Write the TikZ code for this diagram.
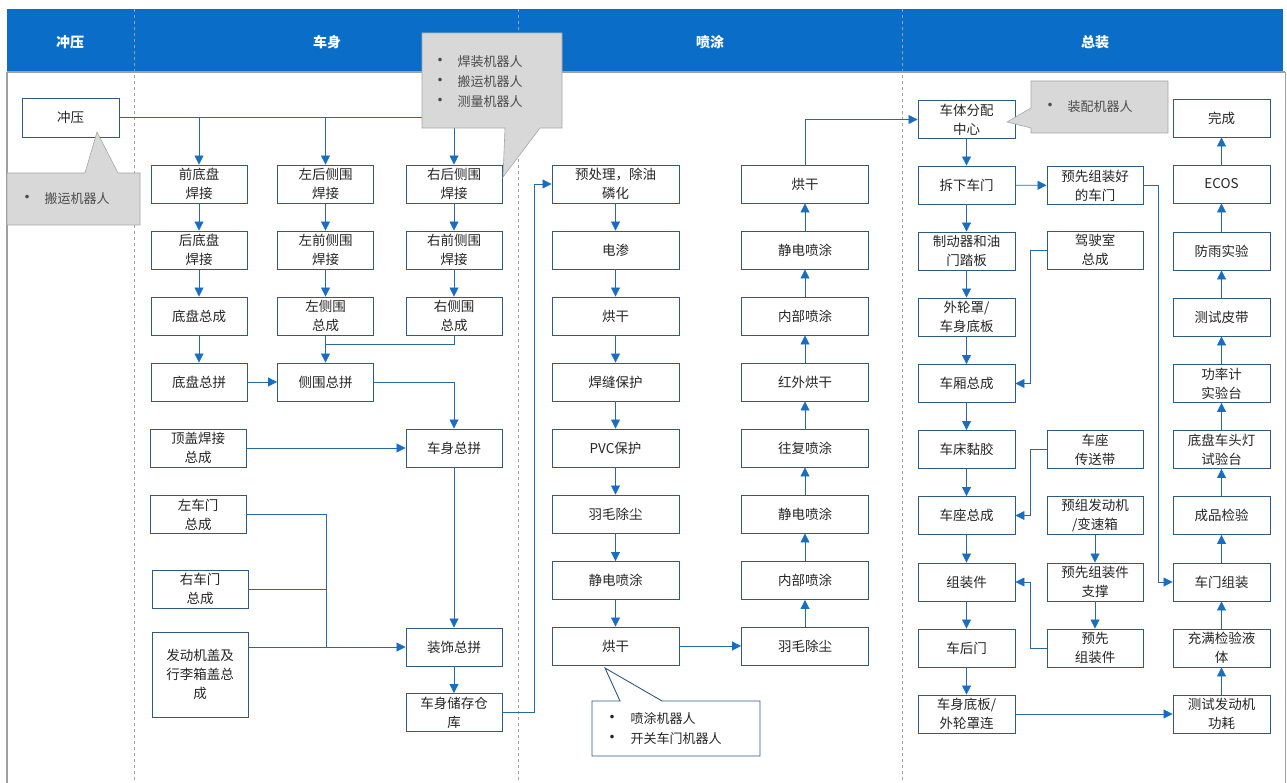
\documentclass[tikz,border=0pt]{standalone}
\usepackage{fontspec}
\newfontfamily\cjk{Noto Sans CJK SC}
\usetikzlibrary{arrows.meta}
\definecolor{hdr}{RGB}{10,110,200}
\definecolor{boxc}{RGB}{45,90,130}
\definecolor{linec}{RGB}{40,105,165}
\definecolor{tipc}{RGB}{25,110,195}
\definecolor{callg}{RGB}{216,216,216}
\definecolor{sepc}{RGB}{160,160,160}
\newcommand{\bul}{{\fontsize{17}{17}\selectfont •}}
\begin{document}
\begin{tikzpicture}[x=1pt,y=-1pt,
  box/.style={draw=boxc, line width=0.9pt, fill=white, minimum width=96pt, minimum height=38pt,
    align=center, inner sep=0pt, font=\cjk\fontsize{13.5}{19}\selectfont, text=black!85},
  wbox/.style={box, minimum width=127pt},
  conn/.style={draw=linec, line width=0.8pt},
  arr/.style={conn, -{Triangle[width=9pt,length=9pt,color=tipc]}},
  hdrtext/.style={font=\cjk\bfseries\fontsize{14}{16}\selectfont, text=white},
  calltext/.style={font=\cjk\fontsize{13}{20}\selectfont, text=black!70, align=left, anchor=west},
  callgray/.style={fill=callg, draw=gray!70, line width=0.6pt},
  callwhite/.style={fill=white, draw=boxc, line width=0.9pt}]
\useasboundingbox (0,0) rectangle (1287,783);
% header
\fill[hdr] (7,9) rectangle (1283,71);
\draw[sepc, line width=1.8pt] (7,72) -- (1285,72);
\draw[sepc, line width=1.5pt] (7,72) -- (7,783);
\draw[sepc, line width=1pt] (1285,72) -- (1285,783);
\foreach \xx in {134,518,902} {\draw[sepc, dashed, line width=0.8pt] (\xx,9) -- (\xx,783);}
\node[hdrtext] (h1) at (70,42) {冲压};
\node[hdrtext] (h2) at (327,42) {车身};
\node[hdrtext] (h3) at (710,42) {喷涂};
\node[hdrtext] (h4) at (1095,42) {总装};

% stamping
\node[box, minimum width=97pt, minimum height=39pt] (cy) at (70.5,117.5) {冲压};

% body
\node[box] (qdp) at (199,184) {前底盘\\焊接};
\node[box] (hdp) at (199,250) {后底盘\\焊接};
\node[box] (dpzc) at (199,316) {底盘总成};
\node[box] (dpzp) at (199,382) {底盘总拼};
\node[box] (zhc) at (325.5,184) {左后侧围\\焊接};
\node[box] (zqc) at (325.5,250) {左前侧围\\焊接};
\node[box] (zcz) at (325.5,316) {左侧围\\总成};
\node[box] (cwzp) at (325.5,382) {侧围总拼};
\node[box] (yhc) at (454,184) {右后侧围\\焊接};
\node[box] (yqc) at (454,250) {右前侧围\\焊接};
\node[box] (ycz) at (454,316) {右侧围\\总成};
\node[box] (cszp) at (454,448) {车身总拼};
\node[box] (zszp) at (454,647) {装饰总拼};
\node[box] (cscc) at (454,712.5) {车身储存仓\\库};
\node[box] (dg) at (198,448) {顶盖焊接\\总成};
\node[box] (zcm) at (198,514.5) {左车门\\总成};
\node[box] (ycm) at (200,589) {右车门\\总成};
\node[box, minimum height=85pt] (fdj) at (200,674.5) {发动机盖及\\行李箱盖总\\成};

% paint
\node[wbox] (p1) at (615.5,184) {预处理，除油\\磷化};
\node[wbox] (p2) at (615.5,250) {电渗};
\node[wbox] (p3) at (615.5,316) {烘干};
\node[wbox] (p4) at (615.5,382) {焊缝保护};
\node[wbox] (p5) at (615.5,448) {PVC保护};
\node[wbox] (p6) at (615.5,514) {羽毛除尘};
\node[wbox] (p7) at (615.5,580.5) {静电喷涂};
\node[wbox] (p8) at (615.5,646) {烘干};
\node[wbox] (q8) at (805,184) {烘干};
\node[wbox] (q7) at (805,250) {静电喷涂};
\node[wbox] (q6) at (805,316) {内部喷涂};
\node[wbox] (q5) at (805,382) {红外烘干};
\node[wbox] (q4) at (805,448) {往复喷涂};
\node[wbox] (q3) at (805,514) {静电喷涂};
\node[wbox] (q2) at (805,580.5) {内部喷涂};
\node[wbox] (q1) at (805,646) {羽毛除尘};

% assembly
\node[box, minimum width=97pt] (a1) at (966.5,119.5) {车体分配\\中心};
\node[box, minimum width=97pt] (a2) at (966.5,185) {拆下车门};
\node[box, minimum width=97pt] (a3) at (966.5,251) {制动器和油\\门踏板};
\node[box, minimum width=97pt] (a4) at (966.5,317) {外轮罩/\\车身底板};
\node[box, minimum width=97pt] (a5) at (966.5,383.5) {车厢总成};
\node[box, minimum width=97pt] (a6) at (966.5,449.5) {车床黏胶};
\node[box, minimum width=97pt] (a7) at (966.5,515.5) {车座总成};
\node[box, minimum width=97pt] (a8) at (966.5,582) {组装件};
\node[box, minimum width=97pt] (a9) at (966.5,648) {车后门};
\node[box, minimum width=97pt] (a10) at (966.5,714) {车身底板/\\外轮罩连};
\node[box] (b1) at (1095,185.5) {预先组装好\\的车门};
\node[box] (b2) at (1095,250) {驾驶室\\总成};
\node[box] (b3) at (1095,449.5) {车座\\传送带};
\node[box] (b4) at (1095,515.5) {预组发动机\\/变速箱};
\node[box] (b5) at (1095,582) {预先组装件\\支撑};
\node[box] (b6) at (1095,648) {预先\\组装件};
\node[box, minimum width=97pt] (c10) at (1221.5,118) {完成};
\node[box, minimum width=97pt] (c9) at (1221.5,184) {ECOS};
\node[box, minimum width=97pt] (c8) at (1221.5,251) {防雨实验};
\node[box, minimum width=97pt] (c7) at (1221.5,317) {测试皮带};
\node[box, minimum width=97pt] (c6) at (1221.5,383.5) {功率计\\实验台};
\node[box, minimum width=97pt] (c5) at (1221.5,449.5) {底盘车头灯\\试验台};
\node[box, minimum width=97pt] (c4) at (1221.5,515.5) {成品检验};
\node[box, minimum width=97pt] (c3) at (1221.5,582) {车门组装};
\node[box, minimum width=97pt] (c2) at (1221.5,648) {充满检验液\\体};
\node[box, minimum width=97pt] (c1) at (1221.5,714) {测试发动机\\功耗};

% connectors: stamping/body
\draw[arr] (cy.east) -| (qdp.north);
\draw[arr] (cy.east) -| (zhc.north);
\draw[arr] (cy.east) -| (yhc.north);
\draw[arr] (qdp) -- (hdp);
\draw[arr] (hdp) -- (dpzc);
\draw[arr] (dpzc) -- (dpzp);
\draw[arr] (zhc) -- (zqc);
\draw[arr] (zqc) -- (zcz);
\draw[arr] (yhc) -- (yqc);
\draw[arr] (yqc) -- (ycz);
\coordinate (m1) at (325.5,344);
\draw[conn] (ycz.south) |- (m1);
\draw[arr] (zcz.south) -- (cwzp.north);
\draw[arr] (dpzp) -- (cwzp);
\draw[arr] (cwzp.east) -| (cszp.north);
\draw[arr] (dg) -- (cszp);
\draw[arr] (cszp) -- (zszp);
\coordinate (j1) at (326,647);
\draw[conn] (zcm.east) -| (j1);
\draw[conn] (ycm.east) -- (ycm.east -| j1);
\draw[arr] (fdj.east |- zszp) -- (zszp.west);
\draw[arr] (zszp) -- (cscc);
\coordinate (t1) at (534,712.5);
\draw[arr] (cscc.east) -- (t1) |- (p1.west);

% paint
\draw[arr] (p1) -- (p2);
\draw[arr] (p2) -- (p3);
\draw[arr] (p3) -- (p4);
\draw[arr] (p4) -- (p5);
\draw[arr] (p5) -- (p6);
\draw[arr] (p6) -- (p7);
\draw[arr] (p7) -- (p8);
\draw[arr] (p8) -- (q1);
\draw[arr] (q1) -- (q2);
\draw[arr] (q2) -- (q3);
\draw[arr] (q3) -- (q4);
\draw[arr] (q4) -- (q5);
\draw[arr] (q5) -- (q6);
\draw[arr] (q6) -- (q7);
\draw[arr] (q7) -- (q8);
\draw[arr] (q8.north) |- (a1.west);

% assembly
\draw[arr] (a1) -- (a2);
\draw[arr] (a2) -- (a3);
\draw[arr] (a3) -- (a4);
\draw[arr] (a4) -- (a5);
\draw[arr] (a5) -- (a6);
\draw[arr] (a6) -- (a7);
\draw[arr] (a7) -- (a8);
\draw[arr] (a8) -- (a9);
\draw[arr] (a9) -- (a10);
\draw[arr] (a2) -- (b1);
\draw[arr] (b2.west) -- ++(-16,0) |- (a5.east);
\draw[arr] (b3.west) -- ++(-16,0) |- (a7.east);
\draw[arr] (b4) -- (b5);
\draw[arr] (b5) -- (b6);
\draw[arr] (b6.west) -- ++(-16,0) |- (a8.east);
\draw[arr] (b1.east) -- ++(15,0) |- (c3.west);
\draw[arr] (a10) -- (c1);
\draw[arr] (c1) -- (c2);
\draw[arr] (c2) -- (c3);
\draw[arr] (c3) -- (c4);
\draw[arr] (c4) -- (c5);
\draw[arr] (c5) -- (c6);
\draw[arr] (c6) -- (c7);
\draw[arr] (c7) -- (c8);
\draw[arr] (c8) -- (c9);
\draw[arr] (c9) -- (c10);

% callouts
\draw[callgray] (7,173) -- (85,173) -- (97,132) -- (118,173) -- (140,173) -- (140,225) -- (7,225) -- cycle;
\node[calltext] (k1) at (15,199) {\bul\hspace{9pt}搬运机器人};

\draw[callgray] (422,33) -- (562,33) -- (562,128) -- (540,128) -- (503,177) -- (505,128) -- (422,128) -- cycle;
\node[calltext] (k2) at (428,82) {\bul\hspace{9pt}焊装机器人\\\bul\hspace{9pt}搬运机器人\\\bul\hspace{9pt}测量机器人};

\draw[callgray] (1031,81) -- (1168,81) -- (1168,133) -- (1031,133) -- (1031,128) -- (1007,122) -- (1031,108) -- cycle;
\node[calltext] (k3) at (1038,107) {\bul\hspace{9pt}装配机器人};

\draw[callwhite] (592,701) -- (620,701) -- (605,668) -- (662,701) -- (760,701) -- (760,756) -- (592,756) -- cycle;
\node[calltext, text=black!85] (k4) at (600,729) {\bul\hspace{10pt}喷涂机器人\\\bul\hspace{10pt}开关车门机器人};
\end{tikzpicture}
\end{document}
